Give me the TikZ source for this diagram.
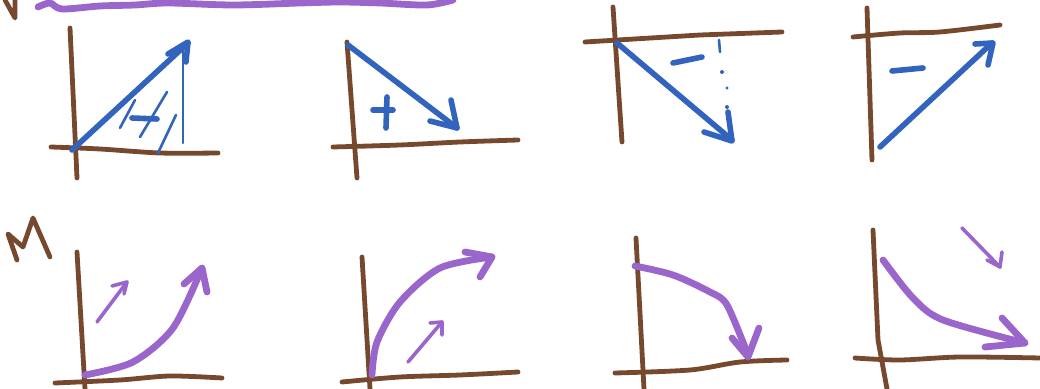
\documentclass[tikz,border=0pt]{standalone}
\usepackage{xcolor}
\definecolor{SketchBrown}{RGB}{118,72,46}
\definecolor{SketchBlue}{RGB}{50,100,190}
\definecolor{SketchPurple}{RGB}{155,102,204}
\usetikzlibrary{positioning}

\tikzset{
  axis/.style={SketchBrown, line width=2.4pt, line cap=round, line join=round},
  vec/.style={SketchBlue, line width=2.8pt, line cap=round, line join=round},
  thinvec/.style={SketchBlue, line width=1.3pt, line cap=round},
  curve/.style={SketchPurple, line width=3.4pt, line cap=round, line join=round},
  smallcurve/.style={SketchPurple, line width=1.8pt, line cap=round, line join=round}
}

\begin{document}
\begin{tikzpicture}[x=0.5pt, y=-0.5pt]
    \useasboundingbox (0,0) rectangle (1040,389);

    % Heading marks
    \draw[axis] (5,0) -- (15,18) -- (15,0);
    \draw[curve] plot[smooth] coordinates {(38,7) (50,3) (62,9) (100,6) (135,5) (168,3) (233,5) (300,3) (340,2) (380,3) (427,5) (453,0)};
    \draw[axis] plot coordinates {(17,260) (8,234) (23,247) (33,218) (50,257)};

    % Top row: axes
    \draw[axis] (70,28) -- (77,178);
    \draw[axis] plot[smooth] coordinates {(51,147) (100,149) (160,153) (218,153)};
    \draw[axis] (347,42) -- (357,178);
    \draw[axis] plot[smooth] coordinates {(333,147) (400,145) (460,142) (518,140)};
    \draw[axis] (613,7) -- (622,142);
    \draw[axis] (585,42) -- (700,35) -- (782,32);
    \draw[axis] (867,8) -- (872,160);
    \draw[axis] plot[smooth] coordinates {(853,37) (900,33) (940,32) (1000,25)};

    % Top row: vectors
    \draw[vec] (72,150) -- (188,43);
    \draw[vec] (168,54) -- (188,42) -- (186,62);
    \draw[thinvec] (183,50) -- (183,143);
    \draw[thinvec] (120,128) -- (135,100);
    \draw[thinvec] (140,137) -- (167,92);
    \draw[thinvec] (158,153) -- (176,115);
    \draw[vec] (132,118) -- (157,119);

    \draw[vec] (348,45) -- (457,128);
    \draw[vec] (430,121) -- (457,128) -- (451,100);
    \draw[vec] (373,110) -- (393,110);
    \draw[vec] (387,97) -- (386,128);

    \draw[vec] (617,43) -- (732,140);
    \draw[vec] (704,132) -- (732,141) -- (728,112);
    \draw[vec] (673,63) -- (702,57);
    \draw[thinvec] (719,40) -- (720,52);
    \fill[SketchBlue] (722,72) circle (1pt) (727,88) circle (0.8pt) (727,107) circle (1pt);

    \draw[vec] (880,147) -- (992,43);
    \draw[vec] (975,44) -- (993,43) -- (988,65);
    \draw[vec] (892,71) -- (923,68);

    % Bottom row: axes
    \draw[axis] (77,252) -- (85,389);
    \draw[axis] plot[smooth] coordinates {(55,383) (120,380) (170,376) (222,378)};
    \draw[axis] (362,257) -- (370,389);
    \draw[axis] plot[smooth] coordinates {(342,382) (400,377) (460,375) (518,372)};
    \draw[axis] (636,238) -- (644,389);
    \draw[axis] plot[smooth] coordinates {(615,373) (690,370) (740,362) (787,360)};
    \draw[axis] (873,230) -- (878,340) -- (887,389);
    \draw[axis] plot[smooth] coordinates {(855,358) (900,360) (960,357) (1040,358)};

    % Bottom row: curves
    \draw[curve] plot[smooth] coordinates {(85,375) (133,362) (173,328) (202,268)};
    \draw[curve] (184,284) -- (202,268) -- (207,292);
    \draw[smallcurve] (97,322) -- (127,282);
    \draw[smallcurve] (112,286) -- (127,282) -- (124,294);

    \draw[curve] plot[smooth] coordinates {(372,375) (377,342) (400,302) (440,268) (492,257)};
    \draw[curve] (465,252) -- (492,257) -- (480,277);
    \draw[smallcurve] (408,362) -- (442,322);
    \draw[smallcurve] (430,323) -- (442,322) -- (442,335);

    \draw[curve] plot[smooth] coordinates {(635,266) (673,275) (710,292) (727,305) (748,355)};
    \draw[curve] (732,338) -- (748,357) -- (759,328);

    \draw[curve] plot[smooth] coordinates {(883,260) (913,298) (943,320) (1025,343)};
    \draw[curve] (1002,318) -- (1025,343) -- (985,347);
    \draw[smallcurve] (962,228) -- (1000,267);
    \draw[smallcurve] (987,260) -- (1000,267) -- (1002,252);
\end{tikzpicture}
\end{document}
